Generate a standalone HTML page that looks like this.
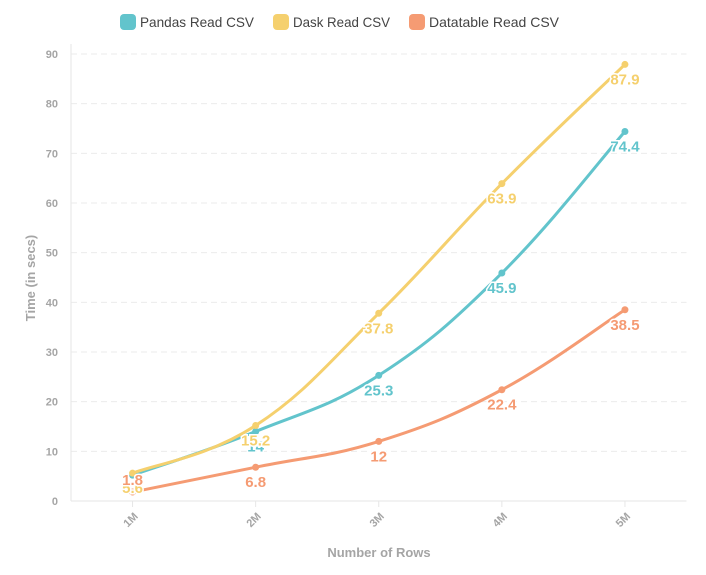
<!DOCTYPE html>
<html><head><meta charset="utf-8"><style>
html,body{margin:0;padding:0;background:#fff;}
svg{display:block;font-family:"Liberation Sans",sans-serif;}
</style></head><body>
<svg id="chart" width="706" height="575" viewBox="0 0 706 575">
<g id="legend"></g>
<g id="grid"></g>
<g id="series"></g>
<g id="labels"></g>
<text transform="translate(35,278) rotate(-90)" text-anchor="middle" font-size="13" font-weight="bold" fill="#a5a5a5">Time (in secs)</text>
<text x="379" y="557" text-anchor="middle" font-size="13" font-weight="bold" fill="#a5a5a5">Number of Rows</text>
</svg>
<script>
const categories = ["1M","2M","3M","4M","5M"];
const pandasValues = [5.2, 14, 25.3, 45.9, 74.4];
const daskValues = [5.6, 15.2, 37.8, 63.9, 87.9];
const datatableValues = [1.8, 6.8, 12, 22.4, 38.5];
const pandasLabels = ["", "14", "25.3", "45.9", "74.4"];
const daskLabels = ["5.6", "15.2", "37.8", "63.9", "87.9"];
const datatableLabels = ["1.8", "6.8", "12", "22.4", "38.5"];
const yTicks = [0,10,20,30,40,50,60,70,80,90];
const seriesNames = ["Pandas Read CSV","Dask Read CSV","Datatable Read CSV"];

const NS="http://www.w3.org/2000/svg";
const L=71,R=686.5,T=54,B=501,yMax=90;
const step=(R-L)/categories.length;
const xS=i=>L+step*(i+0.5);
const yS=v=>B-(v/yMax)*(B-T);
function mk(tag,attrs,parent){const e=document.createElementNS(NS,tag);for(const k in attrs)e.setAttribute(k,attrs[k]);parent.appendChild(e);return e;}

const grid=document.getElementById('grid');
yTicks.forEach(t=>{
  const y=yS(t);
  const ln=mk('line',{x1:L,x2:R,y1:y,y2:y,stroke:t===0?'#e6e6e6':'#ebebeb','stroke-width':1,'stroke-dasharray':t===0?'none':'6,4'},grid);
  
  
  const tx=mk('text',{x:58,y:y+4,'text-anchor':'end','font-size':11,'font-weight':'bold',fill:'#a5a5a5'},grid);
  tx.textContent=t;
  
  
});
const ax=mk('line',{x1:L,x2:L,y1:T-10,y2:B,stroke:'#e6e6e6'},grid);


categories.forEach((c,i)=>{
  const x=xS(i);
  const tk=mk('line',{x1:x,x2:x,y1:B,y2:B+6,stroke:'#e6e6e6'},grid);
  
  
  const tx=mk('text',{x:0,y:0,'text-anchor':'end','font-size':11,'font-weight':'bold',fill:'#a5a5a5',transform:`translate(${x+6},${B+16}) rotate(-45)`},grid);
  tx.textContent=c;
  
  
});

function pathD(vals){
  const p=vals.map((v,i)=>[xS(i),yS(v)]);
  let d=`M${p[0][0]},${p[0][1]}`;const t=0.2;
  for(let i=0;i<p.length-1;i++){
    const p0=p[i-1]||p[i],p1=p[i],p2=p[i+1],p3=p[i+2]||p2;
    const c1=[p1[0]+(p2[0]-p0[0])*t,p1[1]+(p2[1]-p0[1])*t];
    const c2=[p2[0]-(p3[0]-p1[0])*t,p2[1]-(p3[1]-p1[1])*t];
    d+=` C${c1[0]},${c1[1]} ${c2[0]},${c2[1]} ${p2[0]},${p2[1]}`;
  }
  return d;
}
const sg=document.getElementById('series'),lg=document.getElementById('labels');
const defs=[["pandas",pandasValues,pandasLabels,"#62c4cc"],["dask",daskValues,daskLabels,"#f5d06e"],["datatable",datatableValues,datatableLabels,"#f59b73"]];
defs.forEach(([n,vals,labs,col])=>{
  const pa=mk('path',{d:pathD(vals),fill:'none',stroke:col,'stroke-width':3},sg);
  
  
  vals.forEach((v,i)=>{
    const c=mk('circle',{cx:xS(i),cy:yS(v),r:3.5,fill:col},sg);
    
    
  });
});
defs.forEach(([n,vals,labs,col])=>{
  vals.forEach((v,i)=>{
    if(!labs[i])return;
    let y=yS(v)+20;
    if(y>B-2) y=yS(v)-7;
    const tx=mk('text',{x:xS(i),y:y,'text-anchor':'middle','font-size':15,'font-weight':'bold',fill:col,stroke:'#fff','stroke-width':3,'paint-order':'stroke'},lg);
    tx.textContent=labs[i];
    
    
  });
});
const leg=document.getElementById('legend');
const lx=[120,273,409];
const lw=[114,97,130];
seriesNames.forEach((s,i)=>{
  const g=mk('g',{},leg);
  
  
  mk('rect',{x:lx[i],y:14,width:16,height:16,rx:4,fill:defs[i][3]},g);
  const tx=mk('text',{x:lx[i]+20,y:27,'font-size':14,fill:'#444',textLength:lw[i],lengthAdjust:'spacingAndGlyphs'},g);
  tx.textContent=s;
});
</script>
</body></html>
